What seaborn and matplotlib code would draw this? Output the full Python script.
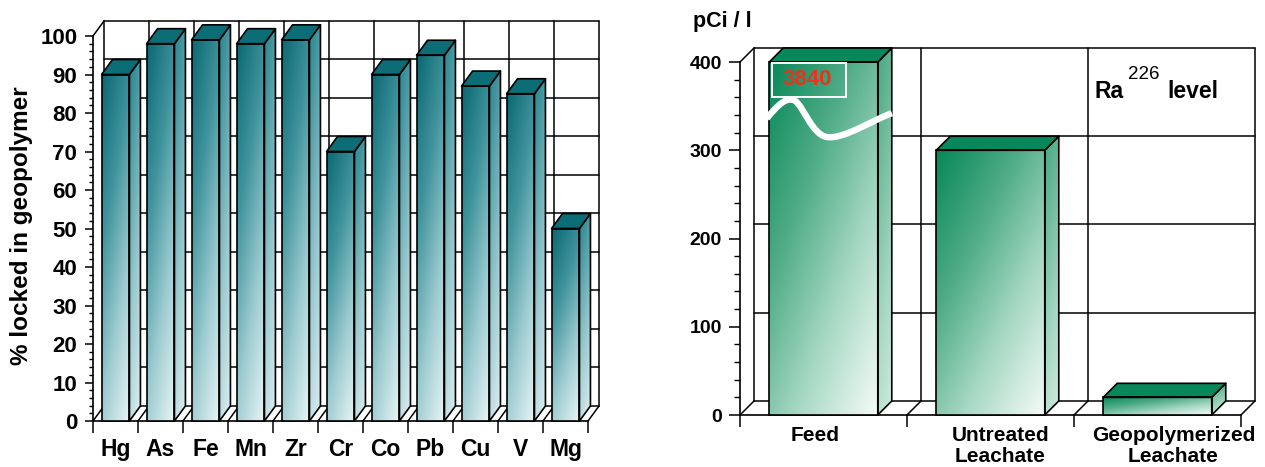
import numpy as np
import pandas as pd
import matplotlib
matplotlib.use("Agg")
import matplotlib.pyplot as plt
import seaborn as sns
from matplotlib.colors import LinearSegmentedColormap
from matplotlib.patches import Polygon, Rectangle, PathPatch
from matplotlib.path import Path
from matplotlib.ticker import FixedLocator
from matplotlib.transforms import ScaledTranslation

# ---- data -------------------------------------------------------------
elements = ["Hg", "As", "Fe", "Mn", "Zr", "Cr", "Co", "Pb", "Cu", "V", "Mg"]
locked_pct = [90, 98, 99, 98, 99, 70, 90, 95, 87, 85, 50]
pct_ticks = list(range(0, 101, 10))

ra_samples = ["Feed", "Untreated\nLeachate", "Geopolymerized\nLeachate"]
ra_level = [3840, 300, 20]
ra_ticks = [0, 100, 200, 300, 400]

# ---- style ------------------------------------------------------------
sns.set_theme(style="white")
plt.rcParams["font.family"] = ["Liberation Sans", "DejaVu Sans"]
plt.rcParams["font.weight"] = "bold"
plt.rcParams["axes.labelweight"] = "bold"

teal = LinearSegmentedColormap.from_list(
    "teal", ["#0b6872", "#3f939c", "#9ccbd0", "#eaf5f6"])
green = LinearSegmentedColormap.from_list(
    "green", ["#078858", "#4eab86", "#a8d9c4", "#f5fbf8"])

fig = plt.figure(figsize=(12.65, 4.67), dpi=100)
W, H = 1265.0, 467.0


def frame_box(ax, n, ytop, dx, dy, grid_vals, lw=1.1):
    """Back wall, floor and edges of the pseudo-3D box."""
    kw = dict(color="black", lw=lw, clip_on=False, zorder=1,
              solid_capstyle="round")
    x0, x1 = -0.5, n - 0.5
    for y in grid_vals:
        ax.plot([x0 + dx, x1 + dx], [y + dy, y + dy], **kw)
    for b in np.arange(x0, x1 + 0.01, 1.0):
        ax.plot([b + dx, b + dx], [dy, ytop + dy], **kw)
        ax.plot([b, b + dx], [0, dy], **kw)
    ax.plot([x0, x0 + dx], [ytop, ytop + dy], **kw)


def bars_3d(ax, frame, xcol, ycol, ymax, dx, dy, width, cmap, top_color,
            wx, side_lo, side_hi, lw=1.2):
    sns.barplot(data=frame, x=xcol, y=ycol, ax=ax, width=width,
                color=cmap(0.0), saturation=1, linewidth=0, zorder=3)
    bars = list(ax.patches)
    nx, ny = 64, 256
    xf = np.linspace(0, 1, nx)[None, :]
    yf = np.linspace(0, 1, ny)[:, None]
    for p in bars:
        x0, w = p.get_x(), p.get_width()
        h = min(p.get_height(), ymax)
        p.set_height(h)
        x1 = x0 + w
        # front face: diagonal shading, dark upper-left to light lower-right
        t = wx * xf + (1 - wx) * (1 - yf)
        im = ax.imshow(t, extent=[x0, x1, 0, h], origin="lower",
                       aspect="auto", cmap=cmap, vmin=0, vmax=1,
                       interpolation="bilinear", zorder=3.2)
        im.set_clip_path(p)
        # side face
        side = Polygon([(x1, 0), (x1 + dx, dy), (x1 + dx, h + dy), (x1, h)],
                       closed=True, facecolor="none", edgecolor="black",
                       lw=lw, zorder=4, clip_on=False, joinstyle="round")
        ax.add_patch(side)
        ts = side_lo + (side_hi - side_lo) * (0.8 * (1 - yf) + 0.2 * xf)
        ims = ax.imshow(ts, extent=[x1, x1 + dx, 0, h + dy], origin="lower",
                        aspect="auto", cmap=cmap, vmin=0, vmax=1,
                        interpolation="bilinear", zorder=3.2)
        ims.set_clip_path(side)
        # top face
        ax.add_patch(Polygon([(x0, h), (x0 + dx, h + dy), (x1 + dx, h + dy),
                              (x1, h)], closed=True, facecolor=top_color,
                             edgecolor="black", lw=lw, zorder=4,
                             clip_on=False, joinstyle="round"))
        ax.add_patch(Rectangle((x0, 0), w, h, fill=False, edgecolor="black",
                               lw=lw, zorder=4, clip_on=False))
    return bars


def style_axes(ax, n, ytop, dx, dy, yticks, minor_step, ysize, xsize,
               ymaj_len, ymin_len, ypad, xpad):
    ax.set_xlim(-0.5, n - 0.5 + dx)
    ax.set_ylim(0, ytop + dy)
    ax.set_xlabel("")
    ax.set_ylabel("")
    for s in ("top", "right"):
        ax.spines[s].set_visible(False)
    ax.spines["left"].set_bounds(0, ytop)
    ax.spines["bottom"].set_bounds(-0.5, n - 0.5)
    for s in ("left", "bottom"):
        ax.spines[s].set_color("black")
        ax.spines[s].set_linewidth(1.2)
    ax.yaxis.set_major_locator(FixedLocator(yticks))
    ax.yaxis.set_minor_locator(
        FixedLocator(np.arange(0, ytop + 0.01, minor_step)))
    ax.xaxis.set_minor_locator(FixedLocator(np.arange(-0.5, n, 1.0)))
    ax.tick_params(axis="y", which="major", left=True, length=ymaj_len,
                   width=1.1, color="black", pad=ypad, labelsize=ysize,
                   labelcolor="black")
    ax.tick_params(axis="y", which="minor", left=True, length=ymin_len,
                   width=1.0, color="black")
    ax.tick_params(axis="x", which="major", bottom=True, length=0,
                   pad=xpad, labelsize=xsize, labelcolor="black")
    ax.tick_params(axis="x", which="minor", bottom=True, length=8.5,
                   width=1.1, color="black")
    for lab in ax.get_yticklabels() + ax.get_xticklabels():
        lab.set_fontweight("bold")


# ---- left panel: % locked in geopolymer -------------------------------
n1 = len(elements)
dx1, dy1 = 0.244, 3.9
ax1 = fig.add_axes([93 / W, (H - 421) / H, (599 - 93) / W, 400 / H])
df1 = pd.DataFrame({"element": elements, "pct": locked_pct})
frame_box(ax1, n1, 100, dx1, dy1, pct_ticks)
bars_3d(ax1, df1, "element", "pct", 100, dx1, dy1, 0.62, teal, "#0d6d76",
        wx=0.3, side_lo=0.22, side_hi=0.95)
style_axes(ax1, n1, 100, dx1, dy1, pct_ticks, 2, 16, 16.5, 5.8, 3.0, 5.5, 12)
fig.text(22 / W, (H - 226) / H, "% locked in geopolymer", rotation=90,
         ha="center", va="center", fontsize=17.5, fontweight="bold",
         color="black")

# ---- right panel: Ra-226 level ----------------------------------------
n2 = len(ra_samples)
dx2, dy2 = 0.084, 15.9
ax2 = fig.add_axes([740 / W, (H - 415) / H, (1255 - 740) / W, 367 / H])
df2 = pd.DataFrame({"sample": ra_samples, "level": ra_level})
frame_box(ax2, n2, 400, dx2, dy2, ra_ticks)
bars_3d(ax2, df2, "sample", "level", 400, dx2, dy2, 0.65, green, "#08875b",
        wx=0.45, side_lo=0.3, side_hi=0.85)
style_axes(ax2, n2, 400, dx2, dy2, ra_ticks, 20, 14, 15, 8, 4.3, 5, 8)
ax2.set_xticks(range(n2))
ax2.set_xticklabels(ra_samples, fontweight="bold", fontsize=15,
                    linespacing=1.12)
for lab, shift in zip(ax2.get_xticklabels(), [-8, 10, 16]):
    lab.set_transform(lab.get_transform() +
                      ScaledTranslation(shift / 100, 0, fig.dpi_scale_trans))

# axis break across the truncated Feed bar
brk = Path([(-0.34, 336), (-0.28, 350), (-0.22, 362), (-0.17, 356),
            (-0.12, 350), (-0.07, 318), (0.02, 315),
            (0.12, 312), (0.30, 335), (0.41, 342)],
           [Path.MOVETO] + [Path.CURVE4] * 9)
ax2.add_patch(PathPatch(brk, facecolor="none", edgecolor="white", lw=4.6,
                        capstyle="butt", zorder=6, clip_on=False))
ax2.add_patch(Rectangle((-0.308, 360.3), 0.443, 38.6, fill=False,
                        edgecolor="white", lw=1.4, zorder=6))
ax2.text(-0.1, 380, f"{ra_level[0]:d}", color="#e8331f", fontsize=16,
         fontweight="bold", ha="center", va="center", zorder=7)

fig.text(693 / W, (H - 27) / H, "pCi / l", fontsize=15.5, fontweight="bold",
         ha="left", va="baseline", color="black")
fig.text(1095 / W, (H - 98) / H, "Ra", fontsize=16.5, fontweight="bold",
         ha="left", va="baseline", color="black")
fig.text(1128 / W, (H - 79) / H, "226", fontsize=13.5, fontweight="normal",
         ha="left", va="baseline", color="black")
fig.text(1167 / W, (H - 98) / H, "level", fontsize=16.5, fontweight="bold",
         ha="left", va="baseline", color="black")

fig.savefig("out.png", dpi=100)
